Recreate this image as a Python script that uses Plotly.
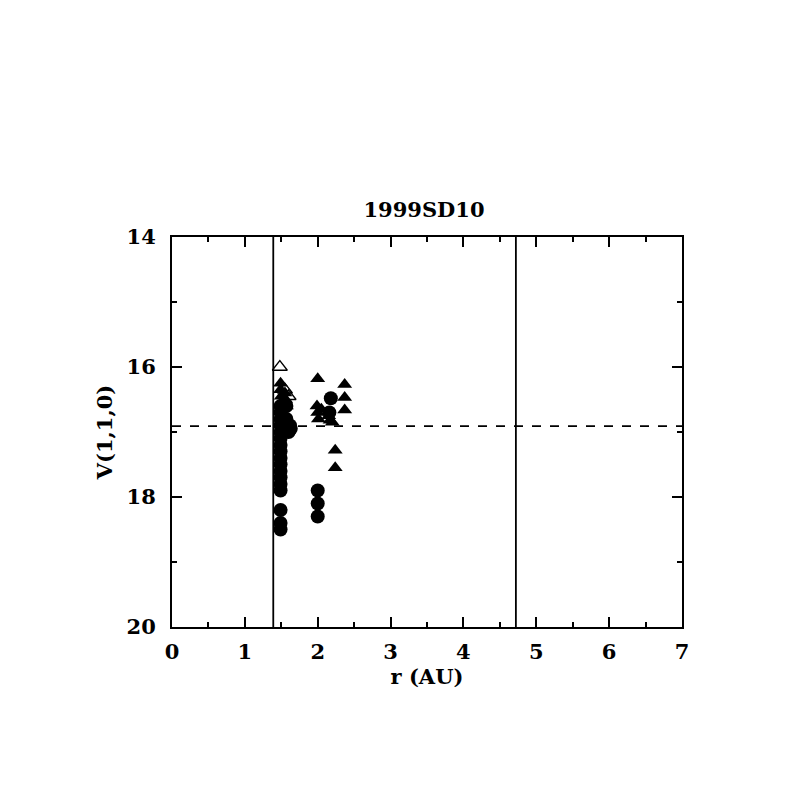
import plotly.graph_objects as go

# Filled circles
circ_x = [1.49]*14 + [1.49, 1.49, 1.49] + [1.57, 1.57, 1.58, 1.6, 1.6, 1.62, 1.63] + [2.0, 2.0, 2.0] + [2.18, 2.16]
circ_v = [16.6, 16.7, 16.8, 16.9, 17.0, 17.1, 17.2, 17.3, 17.4, 17.5, 17.6, 17.7, 17.8, 17.9,
          18.2, 18.4, 18.5,
          16.6, 16.8, 16.9, 16.95, 17.0, 16.9, 16.95,
          17.9, 18.1, 18.3,
          16.48, 16.7]

# Filled triangles
tri_x = [1.49, 1.49, 1.5, 1.5, 1.5, 1.55, 1.56, 1.57,
         2.0, 1.99, 2.0, 2.01, 2.05, 2.15, 2.17, 2.2, 2.24, 2.24,
         2.37, 2.37, 2.37]
tri_v = [16.25, 16.35, 16.45, 16.55, 16.65, 16.4, 16.5, 16.6,
         16.18, 16.6, 16.7, 16.8, 16.65, 16.75, 16.82, 16.85, 17.28, 17.55,
         16.27, 16.47, 16.66]

# Open triangles
otri_x = [1.48, 1.55, 1.6]
otri_v = [16.0, 16.35, 16.45]

vlines = [1.39, 4.72]
hline = 16.91

fig = go.Figure()
fig.add_trace(go.Scatter(x=circ_x, y=circ_v, mode="markers",
                         marker=dict(symbol="circle", size=14, color="black", line=dict(width=0))))
fig.add_trace(go.Scatter(x=tri_x, y=tri_v, mode="markers",
                         marker=dict(symbol="triangle-up", size=13, color="black", line=dict(width=0))))
fig.add_trace(go.Scatter(x=otri_x, y=otri_v, mode="markers",
                         marker=dict(symbol="triangle-up-open", size=13, color="black", line=dict(width=1.3))))

for xv in vlines:
    fig.add_shape(type="line", x0=xv, x1=xv, y0=0, y1=1, xref="x", yref="paper",
                  line=dict(color="black", width=1.8))
fig.add_shape(type="line", x0=0, x1=1, y0=hline, y1=hline, xref="paper", yref="y",
              line=dict(color="black", width=1.8, dash="dash"))

tickfont = dict(family="DejaVu Serif", size=21, color="black", weight="bold")
labfont = dict(family="DejaVu Serif", size=21, color="black", weight="bold")
axis_common = dict(showgrid=False, zeroline=False, showline=True, linecolor="black", linewidth=2,
                   ticks="inside", ticklen=10, tickwidth=1.5, tickcolor="black", mirror="allticks",
                   tickfont=tickfont)

fig.update_layout(
    width=797, height=797,
    plot_bgcolor="white", paper_bgcolor="white",
    showlegend=False,
    margin=dict(l=164, r=123, t=229, b=178),
    title=dict(text="1999SD10", x=(424 - 8) / 797, xanchor="center", y=1 - (210 - 8) / 797, yanchor="middle",
               font=labfont),
    xaxis=dict(range=[0, 7], dtick=1, tick0=0,
               minor=dict(dtick=0.5, ticklen=5, ticks="inside", tickcolor="black", tickwidth=1.5),
               title=dict(text="r (AU)", font=labfont, standoff=4),
               ticklabelstandoff=5,
               **axis_common),
    yaxis=dict(range=[20, 14], dtick=2, tick0=14,
               minor=dict(dtick=1, ticklen=5, ticks="inside", tickcolor="black", tickwidth=1.5),
               title=dict(text="V(1,1,0)", font=labfont, standoff=8),
               ticklabelstandoff=10,
               **axis_common),
)

fig.write_html("out.html")
